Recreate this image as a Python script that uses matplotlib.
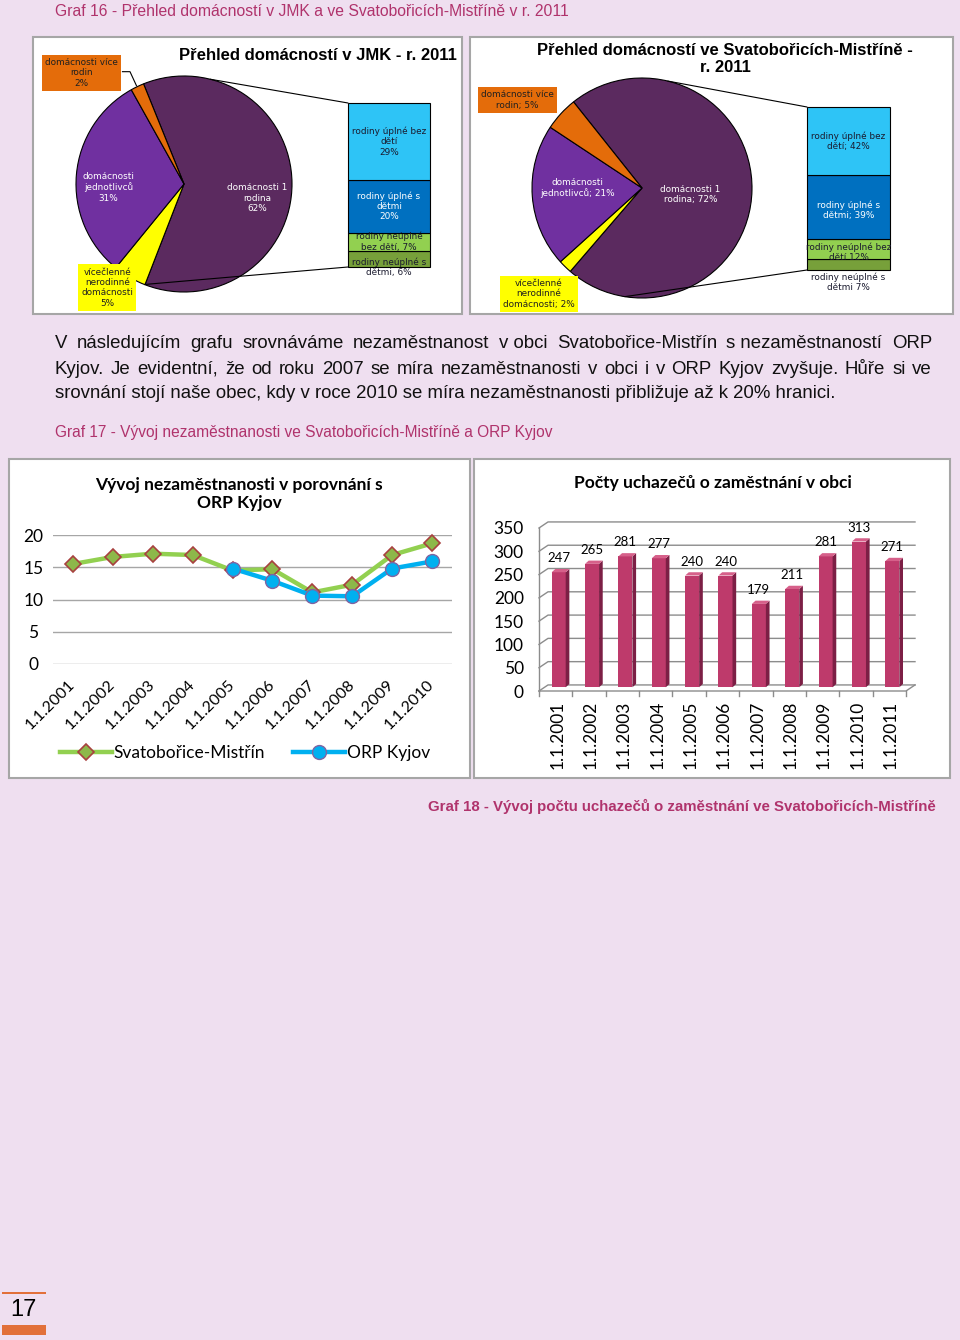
import numpy as np
import matplotlib
matplotlib.use('Agg')
import matplotlib.pyplot as plt
from matplotlib.patches import Rectangle, Polygon, ConnectionPatch

W, H = 960, 1340

# households, JMK 2011 (pie order: 1 rodina, vicecl. nerodinne, jednotlivci, vice rodin)
jmk_labels = ['domácnosti 1\nrodina\n62%', 'vícečlenné\nnerodinné\ndomácnosti\n5%',
              'domácnosti\njednotlivců\n31%', 'domácnosti více\nrodin\n2%']
jmk_values = [62, 5, 31, 2]
# breakdown of "1 rodina", stacked bottom -> top
jmk_fam_labels = ['rodiny neúplné s\ndětmi, 6%', 'rodiny neúplné\nbez dětí, 7%',
                  'rodiny úplné s\ndětmi\n20%', 'rodiny úplné bez\ndětí\n29%']
jmk_fam_values = [6, 7, 20, 29]

# households, Svatobořice-Mistřín 2011
sm_labels = ['domácnosti 1\nrodina; 72%', 'vícečlenné\nnerodinné\ndomácnosti; 2%',
             'domácnosti\njednotlivců; 21%', 'domácnosti více\nrodin; 5%']
sm_values = [72, 2, 21, 5]
sm_fam_labels = ['rodiny neúplné s\ndětmi 7%', 'rodiny neúplné bez\ndětí 12%',
                 'rodiny úplné s\ndětmi; 39%', 'rodiny úplné bez\ndětí; 42%']
sm_fam_values = [7, 12, 39, 42]

# unemployment %
years = ['1.1.2001', '1.1.2002', '1.1.2003', '1.1.2004', '1.1.2005',
         '1.1.2006', '1.1.2007', '1.1.2008', '1.1.2009', '1.1.2010']
unemp_sm = [15.5, 16.6, 17.1, 16.9, 14.5, 14.7, 11.1, 12.3, 16.9, 18.7]
unemp_orp = [np.nan, np.nan, np.nan, np.nan, 14.8, 12.9, 10.6, 10.5, 14.8, 15.9]

# job applicants
bar_years = years + ['1.1.2011']
applicants = [247, 265, 281, 277, 240, 240, 179, 211, 281, 313, 271]

pie_colors = ['#5B2A5F', '#FFFF00', '#7030A0', '#E46C0A']
fam_colors = ['#77A03A', '#92D050', '#0070C0', '#2EC4F6']
fam_text = ['#1A1A2E', '#1A1A2E', 'white', '#1A1A2E']
bg = '#EFDFF0'
magenta = '#B0336C'

plt.rcParams['font.family'] = ['Lato', 'DejaVu Sans']
fig = plt.figure(figsize=(W / 100, H / 100), dpi=100, facecolor=bg)


def px_axes(x0, y0, x1, y1):
    ax = fig.add_axes([x0 / W, 1 - y1 / H, (x1 - x0) / W, (y1 - y0) / H])
    ax.set_facecolor('none')
    return ax


def px_text(x, y, s, **kw):
    return fig.text(x / W, 1 - y / H, s, **kw)


def px_rect(x0, y0, x1, y1, fc, ec='none', lw=0, z=-1):
    fig.patches.append(Rectangle((x0 / W, 1 - y1 / H), (x1 - x0) / W, (y1 - y0) / H,
                                 transform=fig.transFigure, facecolor=fc,
                                 edgecolor=ec, linewidth=lw, zorder=z))


def justified(line, y, x0, x1, **kw):
    words = line.split(' ')
    texts = [px_text(x0, y, w.replace('\u00a0', ' '), va='center', **kw) for w in words]
    r = fig.canvas.get_renderer()
    widths = [t.get_window_extent(r).width for t in texts]
    gap = (x1 - x0 - sum(widths)) / (len(words) - 1)
    x = x0
    for t, w in zip(texts, widths):
        t.set_x(x / W)
        x += w + gap


def household_chart(pie_box, bar_box, values, labels, start, label_pos,
                    fam_values, fam_labels, fam_dy, conn_angles):
    ax = px_axes(*pie_box)
    ax.pie(values, colors=pie_colors, startangle=start, counterclock=False,
           wedgeprops=dict(edgecolor='black', linewidth=0.8))
    ax.set_xlim(-1, 1)
    ax.set_ylim(-1, 1)
    ax.set_aspect('equal')
    ax.axis('off')
    for i, (lab, (lx, ly)) in enumerate(zip(labels, label_pos)):
        kw = dict(ha='center', va='center', fontsize=6.4, family='DejaVu Sans',
                  linespacing=1.2)
        if i in (0, 2):
            ax.text(lx, ly, lab, color='white', **kw)
        else:
            ax.text(lx, ly, lab, color='#202020', clip_on=False,
                    bbox=dict(boxstyle='square,pad=0.35', fc=pie_colors[i], ec='none'), **kw)

    bx = px_axes(*bar_box)
    bottom = 0
    for v, c, lab, tc, dy in zip(fam_values, fam_colors, fam_labels, fam_text, fam_dy):
        bx.bar(0.5, v, width=1, bottom=bottom, color=c, edgecolor='black',
               linewidth=0.8, clip_on=False)
        bx.text(0.5, bottom + v / 2 + dy, lab, ha='center', va='center', color=tc,
                fontsize=6.4, family='DejaVu Sans', linespacing=1.2, clip_on=False)
        bottom += v
    bx.set_xlim(0, 1)
    bx.set_ylim(0, bottom)
    bx.axis('off')

    for a, yb in zip(conn_angles, [bottom, 0]):
        a = np.radians(a)
        fig.add_artist(ConnectionPatch(xyA=(np.cos(a), np.sin(a)), coordsA=ax.transData,
                                       xyB=(0, yb), coordsB=bx.transData,
                                       color='black', lw=0.8))
    return ax


# page texts
px_text(55, 11, 'Graf 16 - Přehled domácností v JMK a ve Svatobořicích-Mistříně v r. 2011',
        color=magenta, fontsize=11.3, family='Liberation Sans', va='center')
para_kw = dict(fontsize=13.4, family=['Liberation Sans Narrow', 'Liberation Sans'], color='#111111')
justified('V následujícím grafu srovnáváme nezaměstnanost v\u00a0obci Svatobořice-Mistřín '
          's\u00a0nezaměstnaností ORP', 344, 55, 932, **para_kw)
justified('Kyjov. Je evidentní, že od roku 2007 se míra nezaměstnanosti v obci i v ORP Kyjov '
          'zvyšuje. Hůře si ve', 369, 55, 932, **para_kw)
px_text(55, 393, 'srovnání stojí naše obec, kdy v roce 2010 se míra nezaměstnanosti '
        'přibližuje až k 20% hranici.', va='center', **para_kw)
px_text(55, 433, 'Graf 17 - Vývoj nezaměstnanosti ve Svatobořicích-Mistříně a ORP Kyjov',
        color=magenta, fontsize=11.2, family='Liberation Sans', va='center')
px_text(428, 806, 'Graf 18 - Vývoj počtu uchazečů o zaměstnání ve Svatobořicích-Mistříně',
        color=magenta, fontsize=10.8, family='Liberation Sans', weight='bold', va='center')

# page number
px_text(23, 1310, '17', ha='center', va='center', fontsize=17, family='Liberation Sans')
px_rect(2, 1292, 46, 1294, '#E2703A')
px_rect(2, 1325, 46, 1335, '#E2703A')

# panels
px_rect(33, 37, 462, 314, 'white', '#A6A6A6', 1.5)
px_rect(470, 37, 953, 314, 'white', '#A6A6A6', 1.5)
px_rect(9, 459, 470, 778, 'white', '#A6A6A6', 1.5)
px_rect(474, 459, 950, 778, 'white', '#A6A6A6', 1.5)

# pie 1 - JMK
px_text(457, 55, 'Přehled domácností v JMK - r. 2011', ha='right', va='center',
        fontsize=12, family='Liberation Sans', weight='bold')
pie1 = household_chart((76, 76, 292, 292), (348, 103, 430, 267), jmk_values, jmk_labels, 112,
                       [(0.68, -0.13), (-0.71, -0.96), (-0.70, -0.03), (-0.95, 1.03)],
                       jmk_fam_values, jmk_fam_labels, [-3, 0, 0, 0], [76, -111.5])
pie1.plot([-0.57, -0.50, -0.44], [1.04, 1.04, 0.91], color='black', lw=0.8, clip_on=False)

# pie 2 - Svatobořice-Mistřín
px_text(725, 59, 'Přehled domácností ve Svatobořicích-Mistříně -\nr. 2011', ha='center',
        va='center', fontsize=12, family='Liberation Sans', weight='bold', linespacing=1.15)
household_chart((532, 78, 752, 298), (807, 107, 890, 270), sm_values, sm_labels, 128.5,
                [(0.44, -0.06), (-0.94, -0.96), (-0.59, 0.0), (-1.13, 0.80)],
                sm_fam_values, sm_fam_labels, [-11, -2, -2, 0], [76.5, -99])

# line chart
px_text(239, 494, 'Vývoj nezaměstnanosti v porovnání s\nORP Kyjov', ha='center', va='center',
        fontsize=12.5, weight='bold', linespacing=1.15)
ax = px_axes(53, 535, 452, 664)
x = np.arange(len(years))
ax.plot(x, unemp_sm, color='#92D050', lw=3.2, marker='D', ms=8, mfc='#8DB84A',
        mec='#A8413F', mew=1.2, label='Svatobořice-Mistřín', clip_on=False, zorder=3)
ax.plot(x, unemp_orp, color='#00B0F0', lw=3.2, marker='o', ms=10, mfc='#00B0F0',
        mec='#8064A2', mew=1.0, label='ORP Kyjov', clip_on=False, zorder=4)
ax.set_xlim(-0.5, len(years) - 0.5)
ax.set_ylim(0, 20)
ax.set_yticks([0, 5, 10, 15, 20])
ax.grid(axis='y', color='#A6A6A6', lw=1)
ax.set_axisbelow(True)
for s in ax.spines.values():
    s.set_visible(False)
ax.tick_params(axis='both', length=0, labelsize=12.5)
ax.tick_params(axis='y', pad=14)
for t in ax.get_yticklabels():
    t.set_horizontalalignment('center')
ax.set_xticks(x)
ax.set_xticklabels(years, rotation=45, ha='right', va='center', rotation_mode='anchor',
                   fontsize=11.5)
ax.tick_params(axis='x', pad=13)
ax.legend(loc='center', bbox_to_anchor=(245 / W, 1 - 753 / H), bbox_transform=fig.transFigure,
          ncol=2, frameon=False, fontsize=12.5, handlelength=3.0, handletextpad=0.1,
          columnspacing=1.6)

# bar chart (pseudo 3D)
px_text(713, 483, 'Počty uchazečů o zaměstnání v obci', ha='center', va='center',
        fontsize=12.5, weight='bold')
bx = px_axes(539, 528, 906, 691)
n = len(applicants)
gdx, gdy = 0.27, 13
grid_c = '#8C8C8C'
for t in range(0, 351, 50):
    bx.plot([-0.5, -0.5 + gdx, n - 0.5 + gdx], [t, t + gdy, t + gdy], color=grid_c, lw=1,
            clip_on=False, zorder=1)
bx.plot([-0.5, -0.5], [0, 350], color=grid_c, lw=1, clip_on=False, zorder=1)
bx.plot([-0.5, n - 0.5, n - 0.5 + gdx], [0, 0, gdy], color=grid_c, lw=1, clip_on=False, zorder=1)
for b in np.arange(n + 1) - 0.5:
    bx.plot([b, b], [0, -11], color=grid_c, lw=1, clip_on=False, zorder=1)

bw, shift, base = 0.42, 0.09, 8
ddx, ddy = 0.11, 7
for i, v in enumerate(applicants):
    x0, x1 = i + shift - bw / 2, i + shift + bw / 2
    top = base + v
    bx.add_patch(Rectangle((x0, base), bw, v, facecolor='#BE3A6B', edgecolor='none', zorder=3))
    bx.add_patch(Polygon([(x1, base), (x1 + ddx, base + ddy), (x1 + ddx, top + ddy), (x1, top)],
                         facecolor='#7C1F45', edgecolor='none', zorder=3))
    bx.add_patch(Polygon([(x0, top), (x0 + ddx, top + ddy), (x1 + ddx, top + ddy), (x1, top)],
                         facecolor='#D6608A', edgecolor='none', zorder=3))
    bx.text(i + shift, top + 30, str(v), ha='center', va='center', fontsize=9.5, zorder=4)

bx.set_xlim(-0.5, n - 0.5)
bx.set_ylim(0, 350)
bx.set_yticks(range(0, 351, 50))
bx.set_xticks(np.arange(n) + shift / 2)
bx.set_xticklabels(bar_years, rotation=90, fontsize=12)
for s in bx.spines.values():
    s.set_visible(False)
bx.tick_params(axis='both', length=0, labelsize=12.5)
bx.tick_params(axis='y', pad=11)
bx.tick_params(axis='x', pad=7)

fig.savefig('out.png', dpi=100, facecolor=bg)
